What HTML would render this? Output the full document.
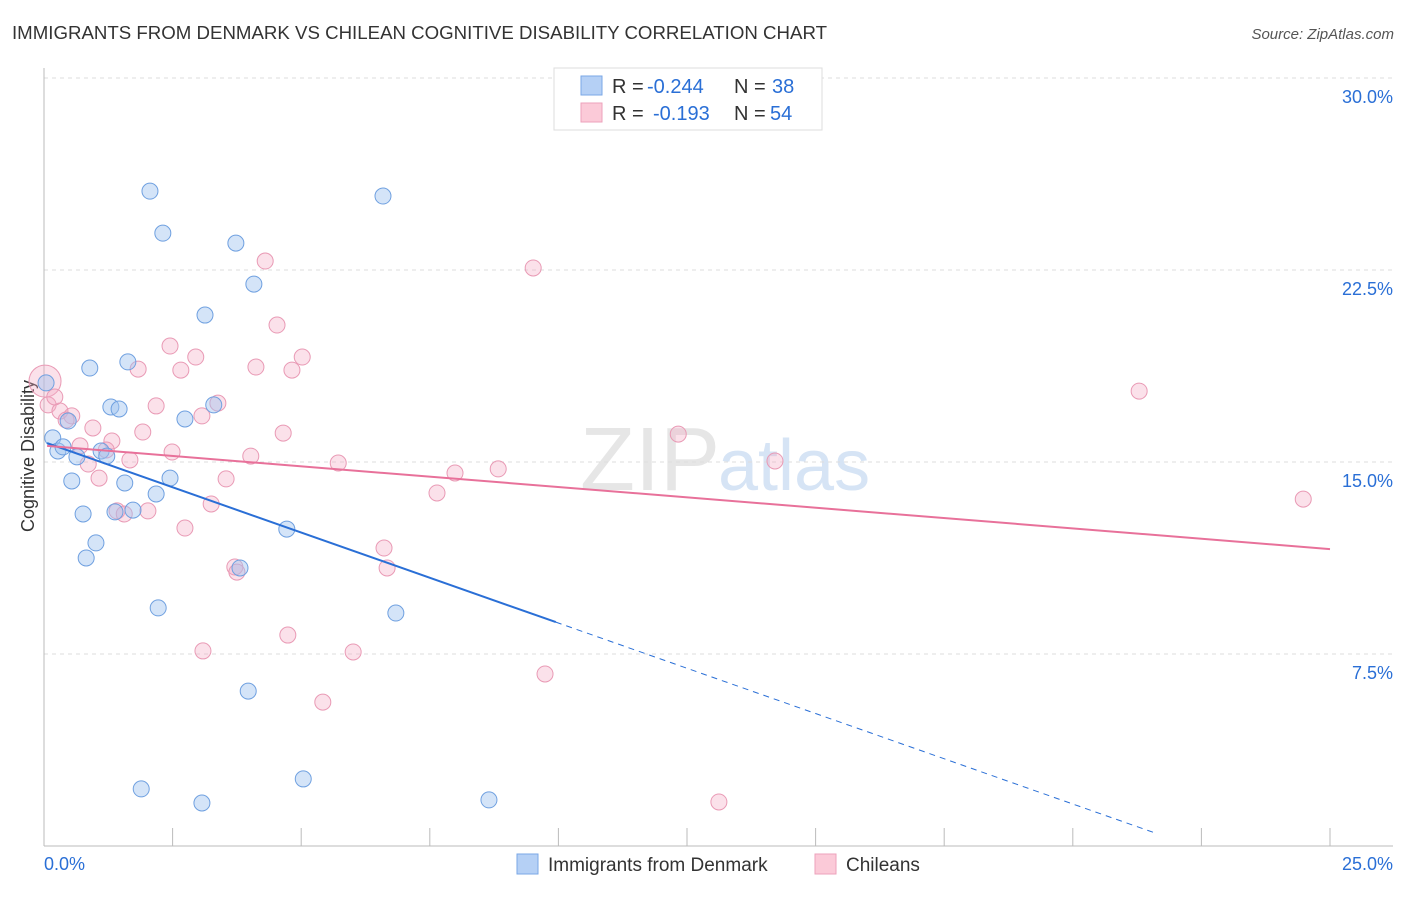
<!DOCTYPE html>
<html><head><meta charset="utf-8"><style>
body{margin:0;background:#fff;font-family:"Liberation Sans",sans-serif;}
svg text{font-family:"Liberation Sans",sans-serif;}
</style></head><body>
<svg id="c" width="1406" height="892" xmlns="http://www.w3.org/2000/svg">
<text x="12" y="39" font-size="18.5" fill="#333" textLength="815" lengthAdjust="spacingAndGlyphs">IMMIGRANTS FROM DENMARK VS CHILEAN COGNITIVE DISABILITY CORRELATION CHART</text>
<text x="1394" y="39" font-size="15" fill="#555" text-anchor="end" font-style="italic">Source: ZipAtlas.com</text>
<text x="720" y="490" font-size="90" fill="#e6e6e6" text-anchor="end" font-family="Liberation Serif">ZIP</text>
<text x="718" y="490" font-size="72" fill="#d6e4f5">atlas</text>
<text transform="translate(34,456) rotate(-90)" font-size="18" fill="#333" text-anchor="middle">Cognitive Disability</text>
<g id="grid"></g><g id="pts"></g><g id="lines"></g>
<g>
<rect x="554" y="68" width="268" height="62" fill="#fff" stroke="#ddd"/>
<rect x="581" y="76" width="21" height="19" fill="#b5d0f5" stroke="#7aa7e6"/>
<rect x="581" y="103" width="21" height="19" fill="#fbcad8" stroke="#eca2bb"/>
<text y="93" font-size="20" fill="#333"><tspan x="612">R =</tspan><tspan x="647" fill="#2a6fd6">-0.244</tspan><tspan x="734">N =</tspan><tspan x="772" fill="#2a6fd6">38</tspan></text>
<text y="120" font-size="20" fill="#333"><tspan x="612">R =</tspan><tspan x="653" fill="#2a6fd6">-0.193</tspan><tspan x="734">N =</tspan><tspan x="770" fill="#2a6fd6">54</tspan></text>
</g>
<rect x="517" y="854" width="21" height="20" fill="#b5d0f5" stroke="#7aa7e6"/>
<text x="548" y="871" font-size="19" fill="#333">Immigrants from Denmark</text>
<rect x="815" y="854" width="21" height="20" fill="#fbcad8" stroke="#eca2bb"/>
<text x="846" y="871" font-size="19" fill="#333">Chileans</text>
</svg>
<script>
const yTicks=[30,22.5,15,7.5];
const yTickLabels=["30.0%","22.5%","15.0%","7.5%"];
const xTickLabels=["0.0%","25.0%"];
const denmarkX=[2.06,2.31,3.73,6.59,4.08,3.13,0.89,1.63,0.04,1.30,1.46,3.30,2.74,0.47,0.17,0.27,0.37,1.11,1.22,0.64,0.54,1.57,2.45,2.18,1.38,1.73,0.76,4.72,1.01,0.82,3.81,2.22,6.84,3.97,5.04,1.89,3.07,8.65];
const denmarkY=[25.58,23.94,23.55,25.39,21.95,20.74,18.67,18.91,18.09,17.15,17.07,17.23,16.68,16.60,15.94,15.43,15.59,15.43,15.23,15.20,14.26,14.18,14.37,13.75,13.05,13.12,12.97,12.38,11.84,11.25,10.86,9.30,9.10,6.05,2.62,2.23,1.68,1.80];
const chileX=[0.02,9.51,4.30,4.53,2.45,5.02,2.95,1.83,2.66,4.12,4.82,21.29,3.38,2.18,0.08,0.31,0.54,3.07,0.95,1.92,4.65,12.33,1.32,0.70,2.49,4.02,1.21,1.67,0.86,5.72,14.21,7.99,8.83,1.07,3.54,7.64,24.48,3.25,1.42,2.02,1.56,2.74,6.61,3.71,6.67,3.75,4.74,3.09,6.01,9.74,5.42,13.12,0.21,0.43];
const chileY=[18.16,22.58,22.85,20.35,19.53,19.10,19.10,18.63,18.59,18.71,18.59,17.77,17.30,17.19,17.23,16.99,16.80,16.80,16.33,16.17,16.13,16.09,15.82,15.63,15.39,15.23,15.47,15.08,14.92,14.96,15.04,14.57,14.73,14.37,14.34,13.79,13.55,13.36,13.09,13.09,12.97,12.42,11.64,10.90,10.86,10.70,8.24,7.62,7.58,6.72,5.62,1.72,17.54,16.64];
const denmarkTrend=[15.78,-0.707];
const chileTrend=[15.64,-0.1617];
const NS="http://www.w3.org/2000/svg";
const sx=v=>44+v/25*1286, sy=v=>846-v/7.5*192;
function mk(t,a,p){const e=document.createElementNS(NS,t);for(const k in a)e.setAttribute(k,a[k]);document.getElementById(p).appendChild(e);return e;}
yTicks.forEach((t,i)=>{
 const g=mk('line',{x1:44,x2:1395,y1:sy(t),y2:sy(t),stroke:'#ddd','stroke-dasharray':'4,4'},'grid');
 
 
 const l=mk('text',{x:1393,y:sy(t)+25,'font-size':18,fill:'#2a6fd6','text-anchor':'end'},'grid');l.textContent=yTickLabels[i];
 
 
});
let ax=mk('line',{x1:44,x2:44,y1:68,y2:846,stroke:'#bbb'},'grid');


let bx=mk('line',{x1:44,x2:1393,y1:846,y2:846,stroke:'#bbb'},'grid');


for(let i=1;i<=10;i++){const t=mk('line',{x1:sx(i*2.5),x2:sx(i*2.5),y1:828,y2:846,stroke:'#bbb'},'grid');
 
 }
[[0,'start',44],[25,'end',1393]].forEach((d,i)=>{const l=mk('text',{x:d[2],y:870,'font-size':18,fill:'#2a6fd6','text-anchor':d[1]},'grid');l.textContent=xTickLabels[i];
 
 });
chileX.forEach((x,i)=>{const c=mk('circle',{cx:sx(x),cy:sy(chileY[i]),r:i==0?16:8,fill:'rgba(244,170,195,0.35)',stroke:'#e99ab5','stroke-width':1},'pts');
 
 });
denmarkX.forEach((x,i)=>{const c=mk('circle',{cx:sx(x),cy:sy(denmarkY[i]),r:8,fill:'rgba(160,196,240,0.45)',stroke:'#6fa0e0','stroke-width':1},'pts');
 
 });
const f=(tr,x)=>tr[0]+tr[1]*x;
let l1=mk('line',{x1:sx(0.06),y1:sy(f(denmarkTrend,0.06)),x2:sx(9.95),y2:sy(f(denmarkTrend,9.95)),stroke:'#2a6fd6','stroke-width':2},'lines');


let l2=mk('line',{x1:sx(9.95),y1:sy(f(denmarkTrend,9.95)),x2:sx(21.6),y2:sy(f(denmarkTrend,21.6)),stroke:'#2a6fd6','stroke-width':1,'stroke-dasharray':'6,5'},'lines');


let l3=mk('line',{x1:sx(0.06),y1:sy(f(chileTrend,0.06)),x2:sx(25),y2:sy(f(chileTrend,25)),stroke:'#e8719a','stroke-width':2},'lines');


</script>
</body></html>
